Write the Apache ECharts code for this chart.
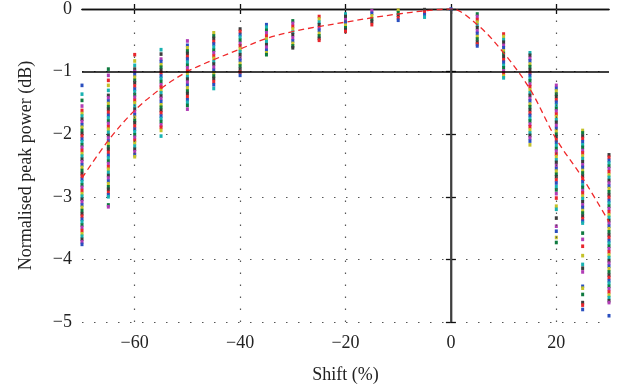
<!DOCTYPE html>
<html>
<head>
<meta charset="utf-8">
<script src="https://cdn.jsdelivr.net/npm/echarts@6/dist/echarts.min.js"></script>
<style>html,body{margin:0;padding:0;background:#fff}#c{width:619px;height:389px}</style>
</head>
<body>
<div id="c"></div>
<script>
// ---------- data ----------
const shifts = [-70,-65,-60,-55,-50,-45,-40,-35,-30,-25,-20,-15,-10,-5,0,5,10,15,20,25,30];
const pM70 = [-1.22,-1.36,-1.46,-1.55,-1.62,-1.67,-1.71,-1.76,-1.80,-1.85,-1.89,-1.94,-1.99,-2.03,-2.08,-2.12,-2.17,-2.21,-2.26,-2.31,-2.35,-2.40,-2.44,-2.49,-2.53,-2.58,-2.63,-2.67,-2.72,-2.76,-2.81,-2.85,-2.90,-2.95,-2.99,-3.04,-3.08,-3.13,-3.17,-3.22,-3.27,-3.31,-3.36,-3.40,-3.45,-3.49,-3.54,-3.59,-3.63,-3.68,-3.72,-3.76];
const pM65 = [-0.96,-1.06,-1.14,-1.22,-1.30,-1.38,-1.42,-1.47,-1.51,-1.56,-1.60,-1.65,-1.70,-1.74,-1.79,-1.83,-1.88,-1.92,-1.97,-2.02,-2.06,-2.11,-2.15,-2.20,-2.24,-2.29,-2.34,-2.38,-2.43,-2.47,-2.52,-2.56,-2.61,-2.66,-2.70,-2.75,-2.79,-2.84,-2.88,-2.93,-2.97,-3.00,-3.13,-3.16];
const pM60 = [-0.73,-0.83,-0.90,-0.96,-1.00,-1.05,-1.09,-1.14,-1.18,-1.23,-1.28,-1.32,-1.37,-1.41,-1.46,-1.50,-1.55,-1.60,-1.64,-1.69,-1.73,-1.78,-1.82,-1.87,-1.92,-1.96,-2.01,-2.05,-2.10,-2.14,-2.19,-2.24,-2.28,-2.33,-2.36];
const pM55 = [-0.65,-0.72,-0.80,-0.84,-0.89,-0.93,-0.98,-1.02,-1.07,-1.11,-1.16,-1.21,-1.25,-1.30,-1.34,-1.39,-1.43,-1.48,-1.53,-1.57,-1.62,-1.66,-1.71,-1.75,-1.80,-1.85,-1.89,-1.94,-2.03];
const pM50 = [-0.51,-0.58,-0.62,-0.67,-0.71,-0.76,-0.80,-0.85,-0.90,-0.94,-0.99,-1.03,-1.08,-1.12,-1.17,-1.22,-1.26,-1.31,-1.35,-1.40,-1.45,-1.49,-1.54,-1.60];
const pM45 = [-0.38,-0.43,-0.47,-0.52,-0.56,-0.61,-0.66,-0.70,-0.75,-0.79,-0.84,-0.88,-0.93,-0.98,-1.02,-1.07,-1.11,-1.16,-1.21,-1.27];
const pM40 = [-0.32,-0.36,-0.41,-0.45,-0.50,-0.55,-0.59,-0.64,-0.68,-0.73,-0.78,-0.82,-0.87,-0.91,-0.96,-1.01,-1.06];
const pM35 = [-0.25,-0.29,-0.34,-0.38,-0.43,-0.48,-0.52,-0.57,-0.61,-0.66,-0.70,-0.73];
const pM30 = [-0.19,-0.23,-0.28,-0.32,-0.37,-0.41,-0.46,-0.51,-0.55,-0.59,-0.62];
const pM25 = [-0.12,-0.16,-0.21,-0.25,-0.30,-0.34,-0.39,-0.43,-0.47,-0.50];
const pM20 = [-0.08,-0.12,-0.17,-0.21,-0.26,-0.30,-0.33,-0.36];
const pM15 = [-0.03,-0.07,-0.11,-0.16,-0.20,-0.25];
const pM10 = [-0.02,-0.06,-0.10,-0.14,-0.18];
const pM5  = [-0.01,-0.05,-0.09,-0.13];
const p0   = [0];
const pP5  = [-0.08,-0.12,-0.17,-0.21,-0.26,-0.30,-0.35,-0.39,-0.44,-0.48,-0.53,-0.56,-0.59];
const pP10 = [-0.40,-0.44,-0.49,-0.53,-0.58,-0.62,-0.67,-0.71,-0.76,-0.81,-0.85,-0.90,-0.94,-0.99,-1.03,-1.07,-1.10];
const pP15 = [-0.70,-0.74,-0.79,-0.83,-0.88,-0.92,-0.97,-1.02,-1.06,-1.11,-1.15,-1.20,-1.24,-1.29,-1.34,-1.38,-1.43,-1.47,-1.52,-1.56,-1.61,-1.66,-1.70,-1.75,-1.79,-1.84,-1.88,-1.93,-1.98,-2.02,-2.06,-2.11,-2.17];
const pP20 = [-1.22,-1.27,-1.31,-1.36,-1.40,-1.45,-1.49,-1.54,-1.59,-1.63,-1.68,-1.72,-1.77,-1.81,-1.86,-1.91,-1.95,-2.00,-2.04,-2.09,-2.13,-2.18,-2.23,-2.27,-2.32,-2.36,-2.41,-2.45,-2.50,-2.55,-2.59,-2.64,-2.68,-2.73,-2.78,-2.84,-2.89,-2.95,-3.02,-3.15,-3.20,-3.34,-3.47,-3.55,-3.65,-3.73];
const pP25 = [-1.94,-1.98,-2.03,-2.07,-2.12,-2.17,-2.21,-2.26,-2.30,-2.35,-2.39,-2.44,-2.49,-2.53,-2.58,-2.62,-2.67,-2.71,-2.76,-2.81,-2.85,-2.90,-2.94,-2.99,-3.03,-3.08,-3.13,-3.17,-3.22,-3.26,-3.31,-3.35,-3.39,-3.42,-3.58,-3.68,-3.79,-3.94,-4.08,-4.14,-4.20,-4.43,-4.46,-4.56,-4.69,-4.73,-4.80];
const pP30 = [-2.33,-2.37,-2.42,-2.46,-2.51,-2.55,-2.60,-2.65,-2.69,-2.74,-2.78,-2.83,-2.87,-2.92,-2.97,-3.01,-3.06,-3.10,-3.15,-3.19,-3.24,-3.29,-3.33,-3.38,-3.42,-3.47,-3.51,-3.56,-3.61,-3.65,-3.70,-3.74,-3.79,-3.83,-3.88,-3.93,-3.97,-4.02,-4.06,-4.11,-4.15,-4.20,-4.25,-4.29,-4.34,-4.38,-4.43,-4.47,-4.52,-4.57,-4.61,-4.66,-4.69,-4.90];
const fitCurve = [-2.70,-2.10,-1.62,-1.27,-1.00,-0.81,-0.64,-0.47,-0.36,-0.28,-0.21,-0.14,-0.08,-0.03,0,-0.25,-0.70,-1.28,-2.08,-2.70,-3.40];
const xTickLabels = [-60,-40,-20,0,20];
const xGridValues = [-60,-40,-20,20];
const refLineY = -1;
const refLineX = 0;

// ---------- build ----------
const powerColumns = [pM70,pM65,pM60,pM55,pM50,pM45,pM40,pM35,pM30,pM25,pM20,pM15,pM10,pM5,p0,pP5,pP10,pP15,pP20,pP25,pP30];
const dotColors = ['#2a4fbf','#0f7a3f','#e8262d','#19b2b2','#b13cb5','#c4c22a','#3c3c3c'];
const scatterData = [];
const scatterColor = [];
powerColumns.forEach((col, c) => {
  col.forEach((v, i) => {
    scatterData.push([shifts[c], v]);
    // deterministic colour cycling (style only)
    scatterColor.push(dotColors[(i * 3 + (i >> 1) * 2 + c) % 7]);
  });
});
const curveData = shifts.map((s, i) => [s, fitCurve[i]]);
const minus = v => String(v).replace('-', '\u2212');
const FONT = 'Liberation Serif';

const chart = echarts.init(document.getElementById('c'), null, {renderer: 'canvas'});
chart.setOption({
  animation: false,
  backgroundColor: '#fff',
  grid: {left: 82, right: 10, top: 8, bottom: 66, containLabel: false},
  xAxis: [{
    type: 'value', min: -70, max: 30, position: 'bottom',
    name: 'Shift (%)', nameLocation: 'middle', nameGap: 44,
    nameTextStyle: {fontFamily: FONT, fontSize: 18, color: '#222'},
    axisLine: {lineStyle: {color: '#111', width: 1.3}},
    axisTick: {inside: true, length: 5, customValues: xTickLabels, lineStyle: {color: '#111', width: 1.3}},
    axisLabel: {customValues: xTickLabels, formatter: minus, fontFamily: FONT, fontSize: 18, color: '#222', margin: 12},
    splitLine: {show: false}
  }, {
    type: 'value', min: -70, max: 30, position: 'top',
    axisLine: {lineStyle: {color: '#111', width: 1.3}},
    axisTick: {inside: true, length: 5, customValues: xTickLabels, lineStyle: {color: '#111', width: 1.3}},
    axisLabel: {show: false}, splitLine: {show: false}
  }],
  yAxis: [{
    type: 'value', min: -5, max: 0, interval: 1, position: 'left',
    name: 'Normalised peak power (dB)', nameLocation: 'middle', nameGap: 47,
    nameTextStyle: {fontFamily: FONT, fontSize: 18, color: '#222'},
    axisLine: {lineStyle: {color: '#111', width: 1.3}},
    axisTick: {inside: true, length: 5, lineStyle: {color: '#111', width: 1.3}},
    axisLabel: {formatter: minus, fontFamily: FONT, fontSize: 18, color: '#222', margin: 10},
    splitLine: {show: true, lineStyle: {color: '#555', width: 1.2, type: [1.5, 10.5]}}
  }, {
    type: 'value', min: -5, max: 0, interval: 1, position: 'right',
    axisLine: {lineStyle: {color: '#111', width: 1.3}},
    axisTick: {inside: true, length: 5, lineStyle: {color: '#111', width: 1.3}},
    axisLabel: {show: false}, splitLine: {show: false}
  }],
  series: [{
    type: 'line', data: [], silent: true, z: 1,
    markLine: {
      silent: true, symbol: 'none', label: {show: false}, animation: false,
      data: [
        ...xGridValues.map(v => ({xAxis: v, lineStyle: {color: '#555', width: 1.2, type: [1.5, 10.5]}})),
        {yAxis: refLineY, lineStyle: {color: '#000', width: 1.6, type: 'solid'}},
        {xAxis: refLineX, lineStyle: {color: '#444', width: 1.8, type: 'solid'}}
      ]
    }
  }, {
    type: 'scatter', data: scatterData, symbol: 'rect', symbolSize: [3, 3.6], z: 3,
    itemStyle: {color: p => scatterColor[p.dataIndex], opacity: 1},
    clip: false, silent: true
  }, {
    type: 'line', data: curveData, smooth: 0.35, symbol: 'none', z: 4,
    lineStyle: {color: '#f0282a', width: 1.3, type: [6, 4]}, silent: true
  }]
});
</script>
</body>
</html>
